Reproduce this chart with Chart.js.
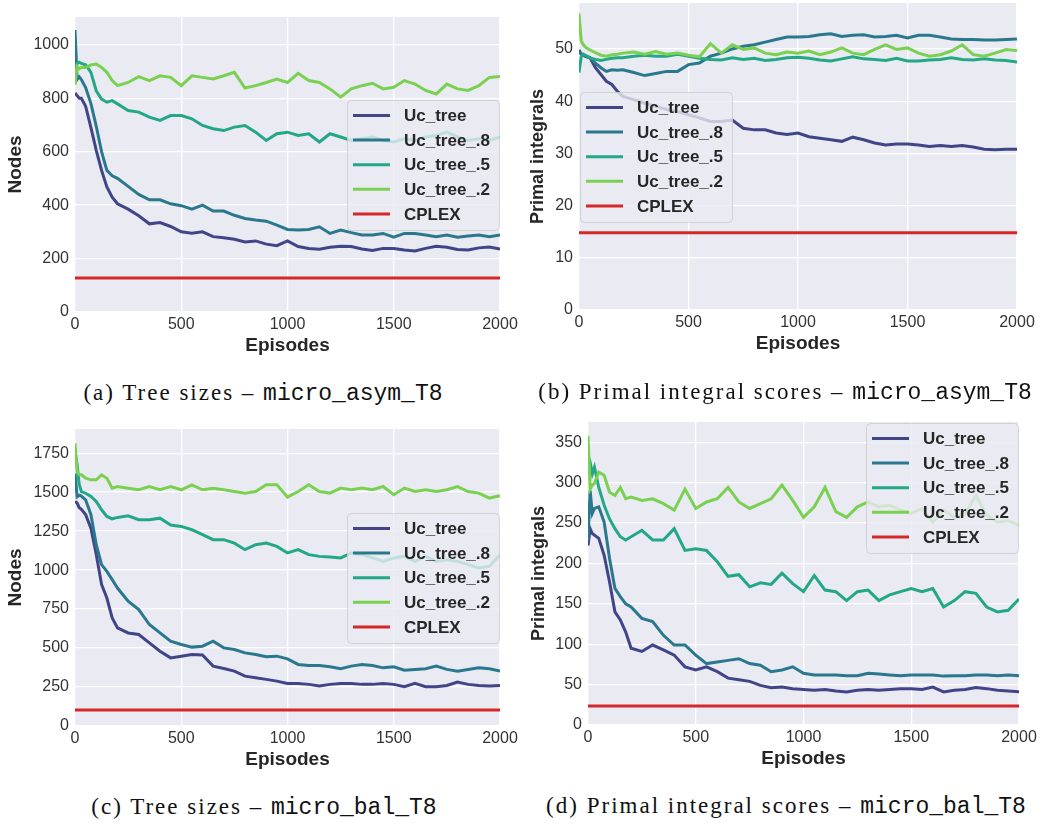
<!DOCTYPE html>
<html>
<head>
<meta charset="utf-8">
<script src="https://cdn.jsdelivr.net/npm/chart.js@4/dist/chart.umd.min.js"></script>
<style>
  body { margin: 0; background: #fff; }
  #page { position: relative; width: 1048px; height: 824px; overflow: hidden; }
  canvas { position: absolute; }
  .cap {
    position: absolute; white-space: nowrap; transform: translateX(-50%);
    font-family: "Liberation Serif", "DejaVu Serif", serif; font-size: 23px; line-height: 26px;
    letter-spacing: 2px; color: #111;
  }
  .cap code { font-family: "Liberation Mono", monospace; font-size: 23px; letter-spacing: 0; }
</style>
</head>
<body>
<div id="page">
  <canvas id="asymNodesChart"></canvas>
  <canvas id="asymPrimalChart"></canvas>
  <canvas id="balNodesChart"></canvas>
  <canvas id="balPrimalChart"></canvas>
  <div class="cap" style="left:263px; top:380px">(a) Tree sizes – <code>micro_asym_T8</code></div>
  <div class="cap" style="left:785px; top:379px">(b) Primal integral scores – <code>micro_asym_T8</code></div>
  <div class="cap" style="left:264px; top:794px">(c) Tree sizes – <code>micro_bal_T8</code></div>
  <div class="cap" style="left:786px; top:793px">(d) Primal integral scores – <code>micro_bal_T8</code></div>
</div>
<script>
const episodes = [0, 10, 20, 30, 50, 75, 100, 125, 150, 175, 200,
  250, 300, 350, 400, 450, 500, 550, 600, 650, 700,
  750, 800, 850, 900, 950, 1000, 1050, 1100, 1150, 1200,
  1250, 1300, 1350, 1400, 1450, 1500, 1550, 1600, 1650, 1700,
  1750, 1800, 1850, 1900, 1950, 2000];

const seriesNames = ['Uc_tree', 'Uc_tree_.8', 'Uc_tree_.5', 'Uc_tree_.2', 'CPLEX'];
const seriesColors = ['#414487', '#2a788e', '#22a884', '#7ad151', '#d62728'];

// micro_asym_T8, tree sizes
const asymNodesUc = [820, 810, 800, 800, 770, 690, 605, 530, 468, 430, 405,
  385, 360, 330, 335, 320, 300, 295, 300, 282, 278,
  272, 262, 266, 254, 248, 266, 245, 238, 235, 242,
  246, 245, 236, 230, 238, 238, 232, 228, 238, 246,
  242, 234, 232, 240, 243, 236];
const asymNodesUc8 = [1055, 870, 880, 870, 840, 780, 695, 600, 530, 510, 500,
  470, 440, 420, 420, 405, 398, 385, 400, 378, 378,
  362, 350, 344, 340, 325, 309, 307, 309, 319, 294,
  307, 297, 288, 288, 294, 280, 294, 294, 288, 282,
  288, 280, 284, 288, 282, 288];
const asymNodesUc5 = [880, 930, 935, 930, 925, 897, 828, 797, 785, 791, 779,
  754, 748, 729, 717, 735, 735, 723, 698, 686, 679,
  692, 698, 673, 642, 667, 673, 661, 667, 636, 667,
  655, 642, 648, 655, 642, 636, 648, 642, 655, 661,
  673, 655, 642, 648, 642, 655];
const asymNodesUc2 = [850, 920, 910, 915, 915, 925, 928, 915, 897, 866, 847,
  859, 881, 866, 884, 878, 847, 884, 878, 872, 884,
  897, 838, 847, 859, 872, 859, 893, 866, 859, 835,
  804, 835, 847, 856, 835, 841, 866, 853, 829, 816,
  853, 835, 829, 847, 878, 881];
const asymNodesCplex = 127;

// micro_asym_T8, primal integrals
const asymPrimalUc = [49.8, 49.0, 48.8, 48.6, 48.3, 46.4, 45.1, 43.8, 43.2, 41.9, 40.9,
  40.3, 39.6, 39.0, 38.4, 38.0, 37.4, 36.8, 36.1, 36.1, 36.4,
  34.8, 34.5, 34.5, 33.9, 33.6, 33.9, 33.2, 32.9, 32.6, 32.3,
  33.1, 32.6, 32.0, 31.6, 31.8, 31.8, 31.6, 31.3, 31.5, 31.3,
  31.5, 31.2, 30.8, 30.7, 30.8, 30.8];
const asymPrimalUc8 = [49.6, 49.0, 48.8, 48.6, 48.3, 47.3, 46.4, 45.7, 46.0, 45.9, 46.0,
  45.5, 44.9, 45.3, 45.7, 45.7, 47.0, 47.3, 48.6, 49.2, 50.0,
  50.5, 50.8, 51.3, 51.8, 52.3, 52.3, 52.4, 52.7, 52.9, 52.4,
  52.6, 52.7, 52.3, 52.4, 52.6, 52.1, 52.6, 52.6, 52.3, 51.9,
  51.8, 51.8, 51.7, 51.7, 51.8, 51.9];
const asymPrimalUc5 = [45.5, 48.5, 49.0, 48.8, 48.3, 48.0, 47.8, 48.0, 48.2, 48.3, 48.3,
  48.6, 48.8, 48.6, 48.6, 49.0, 48.6, 48.2, 48.0, 47.9, 48.3,
  48.0, 48.2, 47.8, 48.0, 48.3, 48.4, 48.2, 47.9, 47.7, 48.1,
  48.5, 48.1, 48.0, 47.8, 48.2, 47.7, 47.7, 47.9, 48.0, 48.3,
  48.0, 47.9, 48.1, 47.9, 47.8, 47.5];
const asymPrimalUc2 = [56.8, 51.5, 50.8, 50.3, 49.8, 49.3, 48.8, 48.6, 48.9, 49.0, 49.2,
  49.4, 49.0, 49.5, 49.0, 49.2, 48.8, 48.5, 51.0, 49.2, 50.8,
  49.9, 50.2, 49.2, 48.9, 49.4, 49.2, 49.6, 48.9, 49.4, 50.2,
  49.2, 48.9, 49.9, 50.8, 49.9, 50.2, 49.2, 48.6, 48.9, 49.6,
  50.8, 48.9, 48.6, 49.2, 49.9, 49.7];
const asymPrimalCplex = 14.8;

// micro_bal_T8, tree sizes
const balNodesUc = [1440, 1430, 1400, 1390, 1356, 1269, 1100, 908, 821, 693, 629,
  597, 587, 533, 480, 437, 448, 459, 455, 384, 369,
  352, 320, 309, 299, 288, 273, 273, 267, 256, 267,
  273, 273, 267, 267, 273, 267, 252, 273, 252, 252,
  260, 282, 267, 260, 256, 260];
const balNodesUc8 = [1620, 1470, 1480, 1475, 1451, 1355, 1163, 1035, 992, 939, 885,
  800, 747, 651, 597, 544, 523, 506, 512, 544, 501,
  491, 469, 459, 444, 448, 431, 395, 388, 388, 380,
  367, 384, 395, 388, 373, 380, 358, 363, 367, 384,
  363, 352, 363, 373, 367, 352];
const balNodesUc5 = [1760, 1675, 1547, 1504, 1493, 1472, 1440, 1387, 1344, 1329, 1338,
  1348, 1323, 1323, 1333, 1289, 1280, 1259, 1227, 1195, 1195,
  1173, 1131, 1163, 1174, 1152, 1110, 1131, 1099, 1088, 1084,
  1078, 1110, 1099, 1078, 1056, 1078, 1088, 1056, 1088, 1056,
  1067, 1056, 1035, 1014, 1024, 1099];
const balNodesUc2 = [1813, 1632, 1611, 1611, 1589, 1579, 1579, 1611, 1589, 1525, 1536,
  1525, 1515, 1536, 1515, 1536, 1515, 1547, 1515, 1525, 1515,
  1504, 1493, 1504, 1547, 1547, 1468, 1504, 1547, 1504, 1494,
  1526, 1515, 1526, 1515, 1536, 1483, 1526, 1504, 1515, 1504,
  1515, 1536, 1504, 1494, 1462, 1477];
const balNodesCplex = 102;

// micro_bal_T8, primal integrals
const balPrimalUc = [222, 243, 237, 235, 231, 210, 177, 140, 130, 115, 95,
  91, 99, 93, 86.5, 72, 68, 72, 66, 58, 56,
  54, 49, 46, 47, 45, 44, 43, 44, 42, 41,
  43, 44, 43, 44, 45, 45, 44, 47, 41, 43,
  44, 46.5, 45, 43, 42, 41];
const balPrimalUc8 = [228, 290, 262, 268, 270, 251, 206, 169, 159, 150, 146,
  132, 128, 111, 99, 99, 86.5, 76, 78, 80, 82,
  76, 74, 66, 68, 72, 64, 62, 62, 62, 61,
  61, 64, 63, 62, 61, 62, 62, 62, 60.5, 61,
  61, 62, 62, 61, 62, 61];
const balPrimalUc5 = [334, 325, 311, 319, 294, 272, 255, 243, 233, 229, 233,
  241, 229, 229, 243, 216, 218, 216, 202, 184, 186,
  171, 176, 174, 188, 175, 165, 185, 167, 165, 154,
  165, 167, 154, 161, 165, 169, 165, 169, 146, 154,
  165, 163, 146, 140, 142, 156];
const balPrimalUc2 = [358, 292, 297, 299, 313, 309, 288, 284, 294, 280, 282,
  278, 280, 274, 266, 292, 268, 276, 280, 294, 276,
  268, 274, 280, 297, 278, 257, 270, 294, 264, 257,
  270, 276, 270, 272, 266, 262, 268, 251, 266, 257,
  262, 284, 260, 251, 253, 247];
const balPrimalCplex = 23.5;

const sansFont = '"Liberation Sans", Arial, sans-serif';

// grey plot face, like the seaborn darkgrid style
const plotBackground = {
  id: 'plotBackground',
  beforeDraw(chart) {
    const { ctx, chartArea: a } = chart;
    ctx.save();
    ctx.fillStyle = '#eaeaf2';
    ctx.fillRect(a.left, a.top, a.right - a.left, a.bottom - a.top);
    ctx.restore();
  }
};

// legend box drawn inside the plot, over the lines
const boxLegend = {
  id: 'boxLegend',
  afterDatasetsDraw(chart, args, opts) {
    const { ctx, chartArea: a } = chart;
    const w = 152, h = 130, pad = 1;
    const x = opts.loc.includes('left') ? a.left + pad : a.right - pad - w;
    const y = opts.loc.startsWith('upper') ? a.top + pad : Math.round((a.top + a.bottom - h) / 2);
    ctx.save();
    ctx.beginPath();
    if (ctx.roundRect) ctx.roundRect(x + 0.5, y + 0.5, w, h, 4);
    else ctx.rect(x + 0.5, y + 0.5, w, h);
    ctx.fillStyle = 'rgba(234,234,242,0.8)';
    ctx.fill();
    ctx.strokeStyle = 'rgba(204,204,204,0.8)';
    ctx.lineWidth = 1;
    ctx.stroke();
    ctx.font = 'bold 17px ' + sansFont;
    ctx.textBaseline = 'middle';
    chart.data.datasets.forEach((ds, i) => {
      const cy = y + 15.5 + i * 24.6;
      ctx.strokeStyle = ds.borderColor;
      ctx.lineWidth = 3;
      ctx.beginPath();
      ctx.moveTo(x + 6, cy);
      ctx.lineTo(x + 43, cy);
      ctx.stroke();
      ctx.fillStyle = '#262626';
      ctx.fillText(ds.label, x + 57, cy + 1);
    });
    ctx.restore();
  }
};

// plain integers, no thousands separator
const plainTick = value => String(value);

function makePanel(id, box, area, series, cplex, yMax, yStep, yTitle, yTitleFont, yTitleX, legendLoc) {
  const canvas = document.getElementById(id);
  canvas.width = box.w;
  canvas.height = box.h;
  canvas.style.left = box.left + 'px';
  canvas.style.top = box.top + 'px';

  const yAxisW = area.l - box.left;
  const xAxisH = box.top + box.h - area.b;
  const titleLine = yTitleFont * 1.2;

  const datasets = series.map((vals, i) => ({
    label: seriesNames[i],
    data: episodes.map((ep, k) => ({ x: ep, y: vals[k] })),
    borderColor: seriesColors[i],
    borderWidth: 3,
    pointRadius: 0,
    tension: 0,
    order: 4 - i,
  }));
  datasets.push({
    label: seriesNames[4],
    data: [{ x: 0, y: cplex }, { x: 2000, y: cplex }],
    borderColor: seriesColors[4],
    borderWidth: 3,
    pointRadius: 0,
    order: 0,
  });

  const tickFont = { family: sansFont, size: 16 };

  return new Chart(canvas, {
    type: 'line',
    data: { datasets },
    plugins: [plotBackground, boxLegend],
    options: {
      responsive: false,
      animation: false,
      devicePixelRatio: 1,
      layout: {
        padding: { left: 0, bottom: 0, top: area.t - box.top, right: box.left + box.w - area.r }
      },
      plugins: {
        legend: { display: false },
        tooltip: { enabled: false },
        boxLegend: { loc: legendLoc },
      },
      scales: {
        x: {
          type: 'linear',
          min: 0,
          max: 2000,
          afterFit(scale) {
            scale.height = xAxisH;
            scale.paddingLeft = 0;
            scale.paddingRight = 0;
          },
          grid: { color: '#ffffff', lineWidth: 1.3, drawTicks: false },
          border: { display: false },
          ticks: { stepSize: 500, autoSkip: false, maxRotation: 0, padding: 3, color: '#333', font: tickFont, callback: plainTick },
          title: {
            display: true,
            text: 'Episodes',
            color: '#262626',
            font: { family: sansFont, size: 19, weight: 'bold' },
            padding: { top: 0, bottom: xAxisH - 33.5 - 11.4 },
          },
        },
        y: {
          type: 'linear',
          min: 0,
          max: yMax,
          afterFit(scale) {
            scale.width = yAxisW;
            scale.paddingTop = 0;
            scale.paddingBottom = 0;
          },
          grid: { color: '#ffffff', lineWidth: 1.3, drawTicks: false },
          border: { display: false },
          ticks: { stepSize: yStep, includeBounds: false, padding: 6, color: '#333', font: tickFont, callback: plainTick },
          title: {
            display: true,
            text: yTitle,
            color: '#262626',
            font: { family: sansFont, size: yTitleFont, weight: 'bold' },
            padding: { top: yTitleX - titleLine / 2, bottom: 0 },
          },
        },
      },
    },
  });
}

makePanel('asymNodesChart', { left: 0, top: 0, w: 524, h: 362 }, { l: 75, t: 17, r: 500, b: 312 },
  [asymNodesUc, asymNodesUc8, asymNodesUc5, asymNodesUc2], asymNodesCplex,
  1104, 200, 'Nodes', 19, 15.7, 'center right');

makePanel('asymPrimalChart', { left: 520, top: 0, w: 528, h: 360 }, { l: 579, t: 3, r: 1017, b: 310 },
  [asymPrimalUc, asymPrimalUc8, asymPrimalUc5, asymPrimalUc2], asymPrimalCplex,
  58.8, 10, 'Primal integrals', 18, 18.3, 'center left');

makePanel('balNodesChart', { left: 0, top: 412, w: 524, h: 364 }, { l: 75, t: 429, r: 500, b: 726 },
  [balNodesUc, balNodesUc8, balNodesUc5, balNodesUc2], balNodesCplex,
  1905, 250, 'Nodes', 19, 15.7, 'center right');

makePanel('balPrimalChart', { left: 520, top: 412, w: 528, h: 363 }, { l: 588, t: 422, r: 1019, b: 725 },
  [balPrimalUc, balPrimalUc8, balPrimalUc5, balPrimalUc2], balPrimalCplex,
  375, 50, 'Primal integrals', 18, 19, 'upper right');
</script>
</body>
</html>
